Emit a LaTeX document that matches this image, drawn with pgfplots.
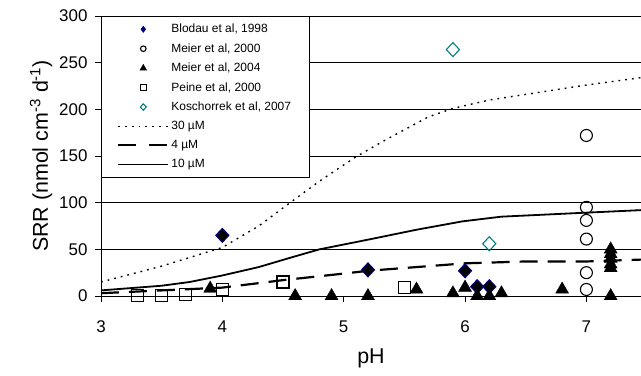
\documentclass[border=0pt]{standalone}
\usepackage{fontspec}
\setmainfont{Liberation Sans}
\usepackage{pgfplots}
\pgfplotsset{compat=1.18}
\definecolor{navyb}{RGB}{0,0,128}
\definecolor{tealk}{RGB}{0,128,128}
\begin{document}
\begin{tikzpicture}
\begin{axis}[
  name=ax,
  scale only axis,
  width=540bp, height=280bp,
  xmin=3, xmax=7.45, ymin=0, ymax=300,
  axis lines*=left,
  xtick={3,4,5,6,7}, ytick={0,50,...,300},
  tick align=outside,
  major tick length=6bp,
  tick style={black, line width=0.8bp},
  ymajorgrids, grid style={black, line width=0.8bp},
  axis line style={black, line width=0.8bp},
  /pgf/number format/assume math mode=true,
  ticklabel style={font=\fontsize{17}{20}\selectfont},
  xticklabel style={yshift=-15bp},
  yticklabel style={xshift=-4bp},
  xlabel={pH}, ylabel={SRR (nmol cm\textsuperscript{-3} d\textsuperscript{-1})},
  label style={font=\fontsize{21.5}{25}\selectfont},
  xlabel style={at={(axis description cs:0.5,0)}, anchor=north, yshift=-49bp},
  clip=false,
  legend style={at={(0,1)}, anchor=north west, draw=black, fill=white,
    font=\fontsize{12}{14}\selectfont, row sep=5.3bp, inner xsep=16bp, inner ysep=6bp},
  legend cell align=left,
  legend image code/.code={\draw[mark repeat=2,mark phase=2,#1] plot coordinates {(0bp,0bp)(25bp,0bp)(50bp,0bp)};},
]
\addplot[only marks, mark=diamond*, mark size=7bp, mark options={xscale=1.25, fill=black, draw=navyb, line width=1bp},
  legend image post style={mark size=3.2bp, mark options={fill=navyb, draw=navyb}}]
  coordinates {(4.0,65) (5.2,28) (6.0,27) (6.1,10) (6.2,10)};
\addlegendentry{Blodau et al, 1998}
\addplot[only marks, mark=o, mark size=6bp, mark options={draw=black, line width=1.1bp},
  legend image post style={mark size=2.8bp}]
  coordinates {(7.0,172) (7.0,95) (7.0,81) (7.0,61) (7.0,25) (7.0,7)};
\addlegendentry{Meier et al, 2000}
\addplot[only marks, mark=triangle*, mark size=7.5bp, mark options={fill=black, draw=black},
  legend image post style={mark size=3.8bp}]
  coordinates {(3.9,8) (4.6,0) (4.9,0) (5.2,0) (5.6,7) (5.9,3) (6.0,9) (6.1,0) (6.2,0) (6.3,3) (6.8,7) (7.2,0) (7.2,50) (7.2,45) (7.2,40) (7.2,34) (7.2,30)};
\addlegendentry{Meier et al, 2004}
\addplot[only marks, mark=square, mark size=6bp, mark options={draw=black, line width=1.1bp},
  legend image post style={mark size=2.8bp}]
  coordinates {(3.3,1) (3.5,1) (3.7,2) (4.0,7) (4.5,15) (5.5,9)};
\addlegendentry{Peine et al, 2000}
\addplot[only marks, mark=diamond, mark size=7bp, mark options={xscale=1.25, draw=tealk, line width=1.1bp},
  legend image post style={mark size=3.2bp}]
  coordinates {(5.9,264) (6.2,56)};
\addlegendentry{Koschorrek et al, 2007}
\addplot[black, line width=1.4bp, dash pattern=on 1.8bp off 5bp,
  legend image post style={line width=1.4bp, dash pattern=on 1.8bp off 5bp}]
  coordinates {(3.0,15) (3.5,32) (4.0,52) (4.3,75) (4.6,104) (4.8,123) (5.1,149) (5.3,164) (5.47,176) (5.7,192) (5.9,201) (6.2,210) (6.6,218) (7.0,226) (7.45,234)};
\addlegendentry{30 µM}
\addplot[black, line width=2.2bp, dash pattern=on 18bp off 10bp,
  legend image post style={line width=2.2bp, dash pattern=on 18bp off 13bp}]
  coordinates {(3.0,3) (3.5,6) (4.0,9) (4.5,17) (5.0,24) (5.2,27) (5.5,30) (6.0,35) (6.5,37) (7.0,37) (7.45,39)};
\addlegendentry{4 µM}
\addplot[black, line width=1.8bp, legend image post style={line width=1.8bp}]
  coordinates {(3.0,6) (3.5,11) (3.73,15) (4.0,22) (4.3,31) (4.56,41) (4.8,50) (5.11,58) (5.3,63) (5.6,71) (5.98,80) (6.3,85) (6.95,89) (7.45,92)};
\addlegendentry{10 µM}
\end{axis}
\pgfresetboundingbox
\path ([shift={(-101bp,-80bp)}]ax.south west) rectangle ([shift={(0bp,16bp)}]ax.north east);
\end{tikzpicture}
\end{document}
